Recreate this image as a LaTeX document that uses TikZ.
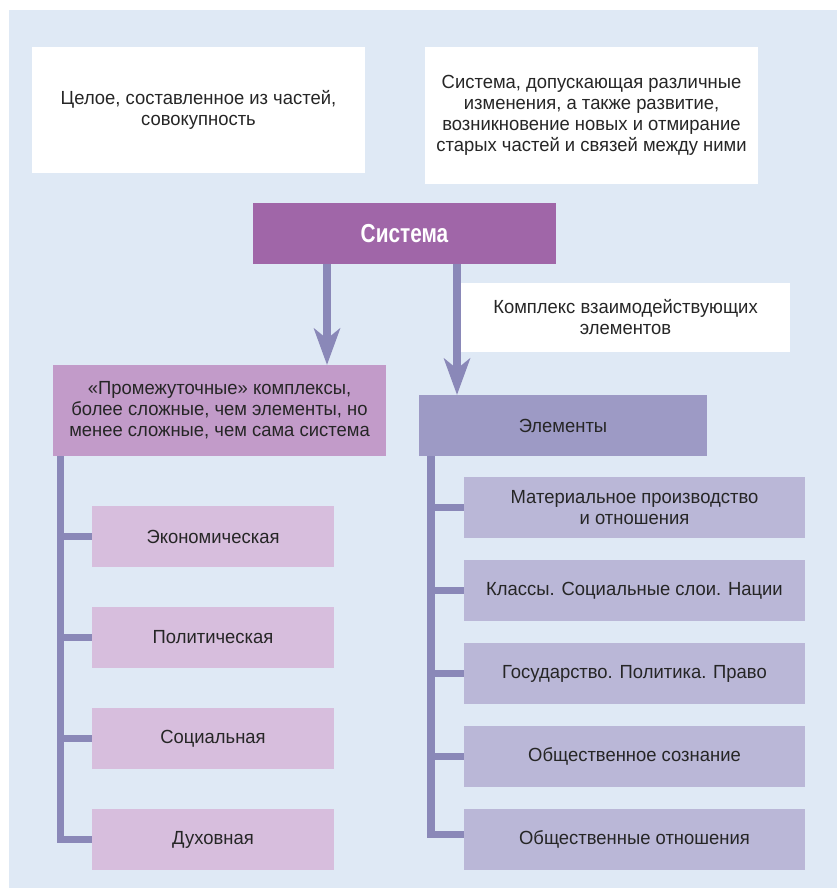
\documentclass[tikz,border=0pt]{standalone}
\usepackage{fontspec}
\setmainfont[FakeStretch=0.97]{Liberation Sans}
\newfontfamily\sysfont[FakeStretch=0.8]{Liberation Sans}
\usetikzlibrary{arrows.meta}
\definecolor{bgc}{HTML}{DFE9F5}
\definecolor{sysc}{HTML}{A066A8}
\definecolor{promc}{HTML}{C29BC9}
\definecolor{leftc}{HTML}{D7BEDD}
\definecolor{elemc}{HTML}{9D9AC5}
\definecolor{rightc}{HTML}{BAB7D7}
\definecolor{linec}{HTML}{8A88B8}
\definecolor{txtc}{HTML}{262626}
\begin{document}
\begin{tikzpicture}[x=1pt,y=-1pt,
  box/.style={inner sep=0pt, align=center, text=txtc, font=\fontsize{19}{21}\selectfont},
  whitebox/.style={box, fill=white},
  leftbox/.style={box, fill=leftc, minimum width=242pt, minimum height=61pt},
  rightbox/.style={box, fill=rightc, minimum width=341pt, minimum height=61pt},
  tree/.style={draw=linec, line width=7.5pt, line join=miter},
  conn/.style={draw=linec, line width=8pt, -{Stealth[length=37pt,width=27pt,inset=11pt,line width=0pt]}}]
\useasboundingbox (0,0) rectangle (837,888);
\fill[bgc] (9,10) rectangle (837,888);

\node[whitebox, minimum width=333pt, minimum height=126pt] (w1) at (198.5,110) {Целое, составленное из частей,\\совокупность};
\node[whitebox, minimum width=333pt, minimum height=137pt] (w2) at (591.5,115.5) {Система, допускающая различные\\изменения, а также развитие,\\возникновение новых и отмирание\\старых частей и связей между ними};
\node[box, fill=sysc, text=white, minimum width=303pt, minimum height=61pt, font=\sysfont\bfseries\fontsize{26}{28}\selectfont] (sys) at (404.5,233.5) {Система};
\node[whitebox, minimum width=329pt, minimum height=69pt] (w3) at (625.5,317.5) {Комплекс взаимодействующих\\элементов};
\node[box, fill=promc, minimum width=333pt, minimum height=91pt] (prom) at (219.5,410.5) {«Промежуточные» комплексы,\\более сложные, чем элементы, но\\менее сложные, чем сама система};
\node[box, fill=elemc, minimum width=288pt, minimum height=61pt] (elem) at (563,425.5) {Элементы};

\node[leftbox] (l1) at (213,536.5) {Экономическая};
\node[leftbox] (l2) at (213,637.5) {Политическая};
\node[leftbox] (l3) at (213,738.5) {Социальная};
\node[leftbox] (l4) at (213,839.5) {Духовная};

\node[rightbox] (r1) at (634.5,507.5) {Материальное производство\\и отношения};
\node[rightbox] (r2) at (634.5,590.5) {Классы. Социальные слои. Нации};
\node[rightbox] (r3) at (634.5,673.5) {Государство. Политика. Право};
\node[rightbox] (r4) at (634.5,756.5) {Общественное сознание};
\node[rightbox] (r5) at (634.5,839.5) {Общественные отношения};

\draw[conn] ([xshift=-77.5pt]sys.south) -- ([xshift=-77.5pt]sys.south |- prom.north);
\draw[conn] ([xshift=52.5pt]sys.south) -- ([xshift=52.5pt]sys.south |- elem.north);

\coordinate (lt) at ([xshift=7.5pt]prom.south west);
\draw[tree] (lt) |- (l4.west);
\draw[tree] (lt |- l1.west) -- (l1.west);
\draw[tree] (lt |- l2.west) -- (l2.west);
\draw[tree] (lt |- l3.west) -- (l3.west);

\coordinate (rt) at ([xshift=12pt]elem.south west);
\draw[tree] (rt) |- ([yshift=5pt]r5.west);
\draw[tree] (rt |- r1.west) -- (r1.west);
\draw[tree] (rt |- r2.west) -- (r2.west);
\draw[tree] (rt |- r3.west) -- (r3.west);
\draw[tree] (rt |- r4.west) -- (r4.west);
\end{tikzpicture}
\end{document}
